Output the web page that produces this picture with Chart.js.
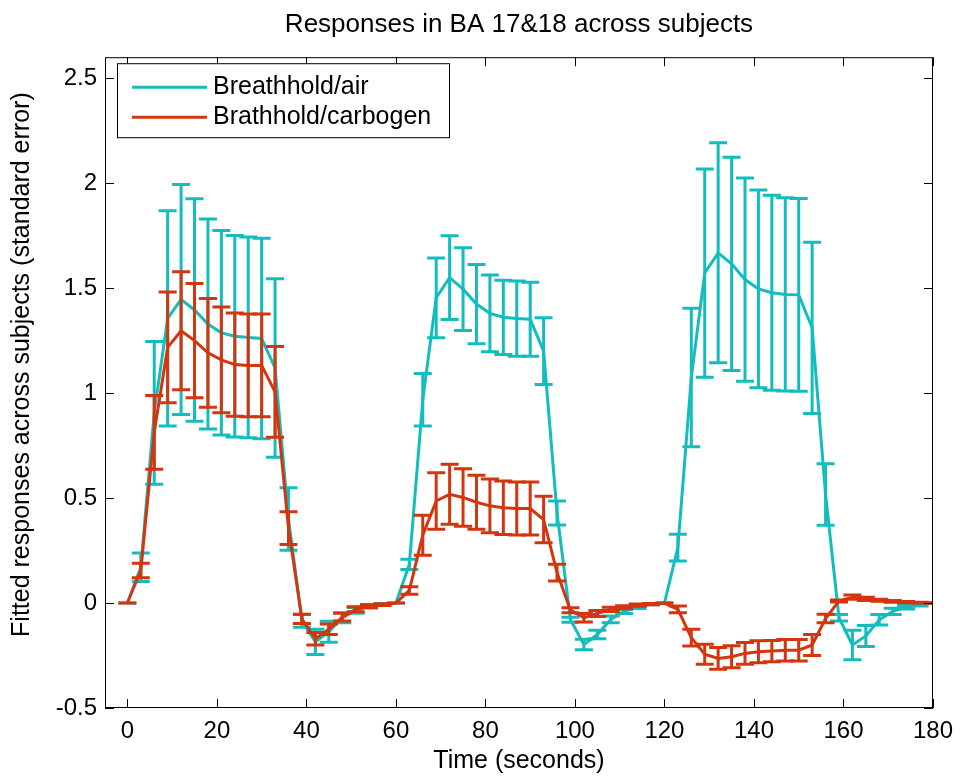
<!DOCTYPE html>
<html lang="en">
<head>
<meta charset="UTF-8">
<title>Responses in BA 17&amp;18 across subjects</title>
<script src="https://cdn.jsdelivr.net/npm/chart.js"></script>
<style>
  html, body { margin: 0; padding: 0; background: #fff; }
  canvas { display: block; }
</style>
</head>
<body>
<canvas id="respChart" width="962" height="776"></canvas>

<script>
// sample times (s)
const times = [
  0, 3, 6, 9, 12, 15, 18, 21, 24, 27, 30, 33, 36, 39, 42, 45, 48, 51, 54, 57,
  60, 63, 66, 69, 72, 75, 78, 81, 84, 87, 90, 93, 96, 99, 102, 105, 108, 111, 114, 117,
  120, 123, 126, 129, 132, 135, 138, 141, 144, 147, 150, 153, 156, 159, 162, 165, 168, 171, 174, 177,
  180
];

// breathhold / air
const airMean = [
  0, 0.17, 0.906, 1.356, 1.446, 1.396, 1.329, 1.287, 1.271, 1.265, 1.26, 1.12, 0.40, -0.085, -0.185, -0.137, -0.07, -0.035, -0.015, -0.007,
  0, 0.184, 0.968, 1.454, 1.55, 1.495, 1.424, 1.38, 1.361, 1.355, 1.352, 1.2, 0.429, -0.08, -0.198, -0.15, -0.078, -0.04, -0.02, -0.005,
  0, 0.264, 1.074, 1.572, 1.668, 1.616, 1.541, 1.496, 1.478, 1.47, 1.468, 1.311, 0.517, -0.07, -0.2, -0.157, -0.08, -0.04, -0.02, -0.01,
  0
];
const airErr = [
  0, 0.068, 0.34, 0.513, 0.548, 0.53, 0.50, 0.487, 0.48, 0.478, 0.478, 0.425, 0.149, 0.03, 0.06, 0.05, 0.024, 0.014, 0.008, 0.004,
  0, 0.024, 0.125, 0.19, 0.2, 0.197, 0.189, 0.183, 0.177, 0.179, 0.176, 0.159, 0.057, 0.012, 0.025, 0.02, 0.016, 0.01, 0.006, 0.003,
  0, 0.064, 0.33, 0.496, 0.524, 0.508, 0.484, 0.471, 0.464, 0.46, 0.459, 0.408, 0.147, 0.015, 0.07, 0.05, 0.025, 0.015, 0.008, 0.004,
  0
];

// breathhold / carbogen
const carbMean = [
  0, 0.155, 0.813, 1.218, 1.297, 1.25, 1.192, 1.158, 1.136, 1.132, 1.132, 1.006, 0.357, -0.075, -0.17, -0.125, -0.067, -0.03, -0.015, -0.008,
  0, 0.06, 0.323, 0.486, 0.518, 0.503, 0.48, 0.463, 0.454, 0.45, 0.45, 0.398, 0.145, -0.034, -0.07, -0.05, -0.03, -0.02, -0.01, -0.005,
  0, -0.03, -0.165, -0.244, -0.264, -0.256, -0.24, -0.232, -0.229, -0.225, -0.225, -0.2, -0.074, 0.01, 0.028, 0.02, 0.013, 0.008, 0.004, 0.002,
  0
];
const carbErr = [
  0, 0.034, 0.176, 0.264, 0.281, 0.272, 0.259, 0.252, 0.246, 0.245, 0.245, 0.216, 0.078, 0.022, 0.03, 0.025, 0.018, 0.012, 0.007, 0.004,
  0, 0.018, 0.095, 0.135, 0.143, 0.137, 0.129, 0.128, 0.127, 0.126, 0.126, 0.111, 0.04, 0.012, 0.02, 0.014, 0.01, 0.007, 0.005, 0.003,
  0, 0.016, 0.04, 0.048, 0.052, 0.052, 0.052, 0.052, 0.051, 0.051, 0.051, 0.05, 0.02, 0.005, 0.01, 0.008, 0.005, 0.004, 0.003, 0.002,
  0
];

const xTicks = [0, 20, 40, 60, 80, 100, 120, 140, 160, 180];
const yTicks = [-0.5, 0, 0.5, 1, 1.5, 2, 2.5];

const FONT = 'Liberation Sans, Arial, Helvetica, sans-serif';
const CYAN = '#14bdbd';
const RED = '#d4350c';
const Y_LABEL = 'Fitted responses across subjects (standard error)';

// vertical error bars with caps, drawn right after each line
const errorBars = {
  id: 'errorBars',
  afterDatasetDraw(chart, args) {
    const ds = chart.data.datasets[args.index];
    const { ctx, chartArea, scales: { x, y } } = chart;
    ctx.save();
    ctx.beginPath();
    ctx.rect(chartArea.left, chartArea.top, chartArea.right - chartArea.left, chartArea.bottom - chartArea.top);
    ctx.clip();
    ctx.strokeStyle = ds.borderColor;
    ctx.lineWidth = 3;
    ctx.lineCap = 'butt';
    ds.data.forEach((p, i) => {
      const e = ds.errors[i];
      const px = x.getPixelForValue(p.x);
      const top = y.getPixelForValue(p.y + e);
      const bot = y.getPixelForValue(p.y - e);
      ctx.beginPath();
      ctx.moveTo(px, top); ctx.lineTo(px, bot);
      ctx.moveTo(px - 9, top); ctx.lineTo(px + 9, top);
      ctx.moveTo(px - 9, bot); ctx.lineTo(px + 9, bot);
      ctx.stroke();
    });
    ctx.restore();
  }
};

// axes box with inward tick marks on all four sides, plus the y label
const matlabBox = {
  id: 'matlabBox',
  afterDatasetsDraw(chart) {
    const { ctx, chartArea: a, scales: { x, y } } = chart;
    const len = 9;
    ctx.save();
    ctx.strokeStyle = '#000';
    ctx.lineWidth = 1;
    ctx.strokeRect(a.left + 0.5, a.top + 0.5, a.right - a.left - 1, a.bottom - a.top - 1);
    ctx.beginPath();
    x.ticks.forEach(t => {
      const px = Math.round(x.getPixelForValue(t.value)) + 0.5;
      ctx.moveTo(px, a.bottom); ctx.lineTo(px, a.bottom - len);
      ctx.moveTo(px, a.top); ctx.lineTo(px, a.top + len);
    });
    y.ticks.forEach(t => {
      const py = Math.round(y.getPixelForValue(t.value)) + 0.5;
      ctx.moveTo(a.left, py); ctx.lineTo(a.left + len, py);
      ctx.moveTo(a.right, py); ctx.lineTo(a.right - len, py);
    });
    ctx.stroke();

    // rotated y axis label, sitting a little above the axes centre
    ctx.translate(22, (a.top + a.bottom) / 2 - 18);
    ctx.rotate(-Math.PI / 2);
    ctx.fillStyle = '#000';
    ctx.font = '25px ' + FONT;
    ctx.textAlign = 'center';
    ctx.textBaseline = 'middle';
    ctx.fillText(Y_LABEL, 0, 0);
    ctx.restore();
  }
};

// boxed legend in the upper left corner of the axes
const boxLegend = {
  id: 'boxLegend',
  afterDraw(chart) {
    const { ctx, chartArea: a } = chart;
    const left = a.left + 12, top = a.top + 6, w = 332, h = 74;
    ctx.save();
    ctx.fillStyle = '#fff';
    ctx.fillRect(left, top, w, h);
    ctx.strokeStyle = '#000';
    ctx.lineWidth = 1;
    ctx.strokeRect(left + 0.5, top + 0.5, w, h);
    ctx.font = '25px ' + FONT;
    ctx.textBaseline = 'middle';
    chart.data.datasets.forEach((ds, i) => {
      const cy = top + 24 + i * 30;
      ctx.strokeStyle = ds.borderColor;
      ctx.lineWidth = 3;
      ctx.beginPath();
      ctx.moveTo(left + 15, cy); ctx.lineTo(left + 90, cy);
      ctx.stroke();
      ctx.fillStyle = '#000';
      ctx.fillText(ds.label, left + 96, cy);
    });
    ctx.restore();
  }
};

new Chart(document.getElementById('respChart'), {
  type: 'line',
  data: {
    datasets: [
      {
        label: 'Breathhold/air',
        data: times.map((t, i) => ({ x: t, y: airMean[i] })),
        errors: airErr,
        borderColor: CYAN,
        borderWidth: 3,
        pointRadius: 0,
        tension: 0,
        order: 2
      },
      {
        label: 'Brathhold/carbogen',
        data: times.map((t, i) => ({ x: t, y: carbMean[i] })),
        errors: carbErr,
        borderColor: RED,
        borderWidth: 3,
        pointRadius: 0,
        tension: 0,
        order: 1
      }
    ]
  },
  options: {
    responsive: false,
    animation: false,
    devicePixelRatio: 1,
    layout: { padding: { left: 0, right: 25, top: 0, bottom: 0 } },
    plugins: {
      legend: { display: false },
      tooltip: { enabled: false },
      title: {
        display: true,
        text: 'Responses in BA 17&18 across subjects',
        color: '#000',
        font: { family: FONT, size: 26, weight: 'normal' },
        padding: { top: 9, bottom: 17 },
        fullSize: false
      }
    },
    scales: {
      x: {
        type: 'linear',
        min: -5,
        max: 180,
        grid: { display: false, drawTicks: false },
        border: { display: false },
        afterBuildTicks: s => { s.ticks = xTicks.map(v => ({ value: v })); },
        afterFit: s => { s.height = 68; },
        ticks: {
          color: '#000',
          font: { family: FONT, size: 24 },
          padding: 9,
          maxRotation: 0,
          autoSkip: false,
          callback: v => String(v)
        },
        title: {
          display: true,
          text: 'Time (seconds)',
          color: '#000',
          font: { family: FONT, size: 25 },
          padding: { top: 0, bottom: 0 }
        }
      },
      y: {
        min: -0.5,
        max: 2.6,
        grid: { display: false, drawTicks: false },
        border: { display: false },
        afterBuildTicks: s => { s.ticks = yTicks.map(v => ({ value: v })); },
        afterFit: s => { s.width = 105; },
        ticks: {
          color: '#000',
          font: { family: FONT, size: 24 },
          padding: 8,
          autoSkip: false,
          callback: v => String(v)
        }
      }
    }
  },
  plugins: [errorBars, matlabBox, boxLegend]
});
</script>
</body>
</html>
